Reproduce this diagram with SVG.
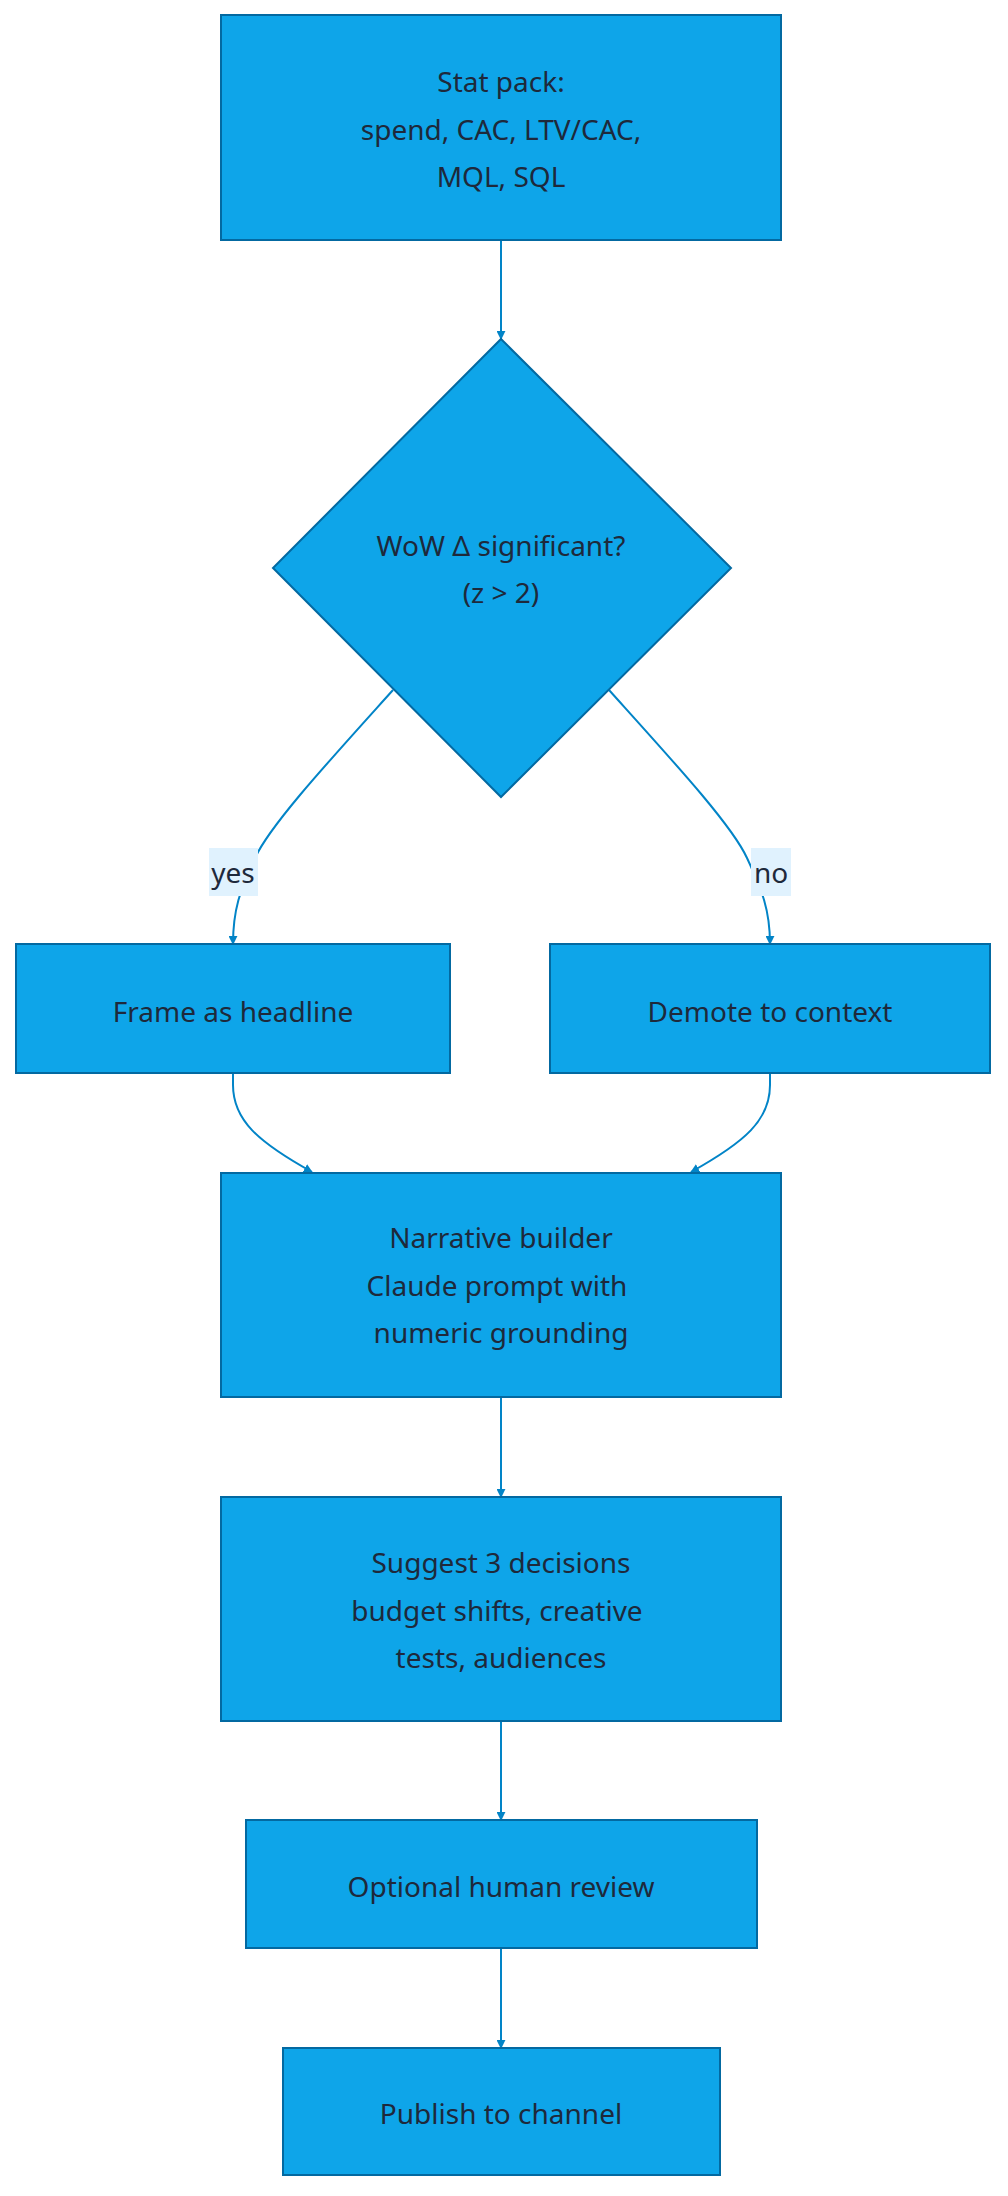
<svg xmlns="http://www.w3.org/2000/svg" width="1008" height="2196" viewBox="0 0 1008 2196">
<defs>
<style>
.n{fill:#0ea5e9;stroke:#0369a1;stroke-width:2}
.t{font-family:"Noto Sans",sans-serif;font-size:28px;fill:#1e293b;text-anchor:middle;dominant-baseline:central}
.e{fill:none;stroke:#0284c7;stroke-width:2}
.lb{fill:#e0f2fe}
</style>
<marker id="a" viewBox="0 0 10 10" refX="9" refY="5" markerWidth="9" markerHeight="9" markerUnits="userSpaceOnUse" orient="auto"><path d="M0,0L10,5L0,10z" fill="#0284c7"/></marker>
</defs>
<rect width="1008" height="2196" fill="#fff"/>
<g id="edges">
<path class="e" d="M501,240V339" marker-end="url(#a)"/>
<path class="e" d="M393,690C330,760 270,825 255,858C240,890 233,910 233,944" marker-end="url(#a)"/>
<path class="e" d="M609,690C672,760 732,825 747,858C762,890 770,910 770,944" marker-end="url(#a)"/>
<path class="e" d="M233,1073V1085C233,1120 258,1142 312,1172" marker-end="url(#a)"/>
<path class="e" d="M770,1073V1085C770,1120 745,1142 691,1172" marker-end="url(#a)"/>
<path class="e" d="M501,1397V1497" marker-end="url(#a)"/>
<path class="e" d="M501,1721V1820" marker-end="url(#a)"/>
<path class="e" d="M501,1948V2048" marker-end="url(#a)"/>
<rect class="lb" x="209" y="848" width="49" height="48"/>
<text class="t" x="233" y="872">yes</text>
<rect class="lb" x="751" y="848" width="40" height="48"/>
<text class="t" x="771" y="872">no</text>
</g>
<g id="stat"><rect class="n" x="221" y="15" width="560" height="225"/>
<text class="t" x="501" y="81">Stat pack:</text><text class="t" x="501" y="129">spend, CAC, LTV/CAC,</text><text class="t" x="501" y="176">MQL, SQL</text></g>
<g id="wow"><path class="n" d="M501,339L731,568L501,797L273,568z"/>
<text class="t" x="501" y="545">WoW Δ significant?</text><text class="t" x="501" y="592">(z &gt; 2)</text></g>
<g id="frame"><rect class="n" x="16" y="944" width="434" height="129"/><text class="t" x="233" y="1011">Frame as headline</text></g>
<g id="demote"><rect class="n" x="550" y="944" width="440" height="129"/><text class="t" x="770" y="1011">Demote to context</text></g>
<g id="narr"><rect class="n" x="221" y="1173" width="560" height="224"/>
<text class="t" x="501" y="1237">Narrative builder</text><text class="t" x="497" y="1285">Claude prompt with</text><text class="t" x="501" y="1332">numeric grounding</text></g>
<g id="suggest"><rect class="n" x="221" y="1497" width="560" height="224"/>
<text class="t" x="501" y="1562">Suggest 3 decisions</text><text class="t" x="497" y="1610">budget shifts, creative</text><text class="t" x="501" y="1657">tests, audiences</text></g>
<g id="review"><rect class="n" x="246" y="1820" width="511" height="128"/><text class="t" x="501" y="1886">Optional human review</text></g>
<g id="publish"><rect class="n" x="283" y="2048" width="437" height="127"/><text class="t" x="501" y="2113">Publish to channel</text></g>
</svg>
